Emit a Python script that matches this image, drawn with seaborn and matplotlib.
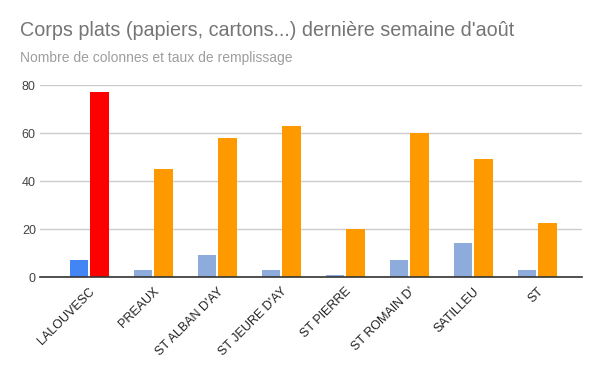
import pandas as pd
import matplotlib
matplotlib.use('Agg')
import matplotlib.pyplot as plt
import seaborn as sns

# Données
communes = ['LALOUVESC', 'PREAUX', "ST ALBAN D'AY", "ST JEURE D'AY", 'ST PIERRE',
            "ST ROMAIN D'", 'SATILLEU', 'ST']
nb_colonnes = [7, 3, 9, 3, 1, 7, 14, 3]
taux_remplissage = [77, 45, 58, 63, 20, 60, 49, 22.5]

df = pd.DataFrame({
    'commune': communes * 2,
    'valeur': nb_colonnes + taux_remplissage,
    'serie': ['colonnes'] * len(communes) + ['taux'] * len(communes),
})

sns.set_style('white')
plt.rcParams['font.family'] = ['Liberation Sans', 'DejaVu Sans']

fig = plt.figure(figsize=(6, 3.71), dpi=100)
ax = fig.add_axes([40 / 600, 1 - 277 / 371, 542 / 600, (277 - 85) / 371])

sns.barplot(data=df, x='commune', y='valeur', hue='serie', order=communes,
            palette={'colonnes': '#8eacdb', 'taux': '#ff9900'},
            width=0.64, saturation=1, errorbar=None, legend=False, ax=ax)

# couleurs particulières pour la première commune + petit espace entre les barres
n = len(communes)
for i, p in enumerate(ax.patches[:2 * n]):
    w = p.get_width()
    p.set_width(w - 0.03)
    p.set_x(p.get_x() + 0.015)
    p.set_edgecolor('none')
ax.patches[0].set_facecolor('#4285f4')
ax.patches[n].set_facecolor('#ff0000')

ax.set_ylim(0, 80)
ax.set_xlim(-0.766, 7.70)
ax.set_yticks([0, 20, 40, 60, 80])
ax.yaxis.grid(True, color='#cccccc', linewidth=1)
ax.set_axisbelow(True)
for s in ['top', 'right', 'left']:
    ax.spines[s].set_visible(False)
ax.spines['bottom'].set_color('#333333')
ax.spines['bottom'].set_linewidth(1.2)
ax.set_xlabel('')
ax.set_ylabel('')
ax.tick_params(axis='y', length=0, labelsize=9, labelcolor='#444444', pad=3)
ax.tick_params(axis='x', length=0, labelsize=9, labelcolor='#222222', pad=6)
plt.setp(ax.get_xticklabels(), rotation=45, ha='right', rotation_mode='anchor')

fig.text(20 / 600, 1 - 30 / 371, "Corps plats (papiers, cartons...) dernière semaine d'août",
         fontsize=14.2, color='#757575', va='center', ha='left')
fig.text(20 / 600, 1 - 58 / 371, 'Nombre de colonnes et taux de remplissage',
         fontsize=10, color='#9e9e9e', va='center', ha='left')

fig.savefig('out.png', dpi=100)
plt.close(fig)
